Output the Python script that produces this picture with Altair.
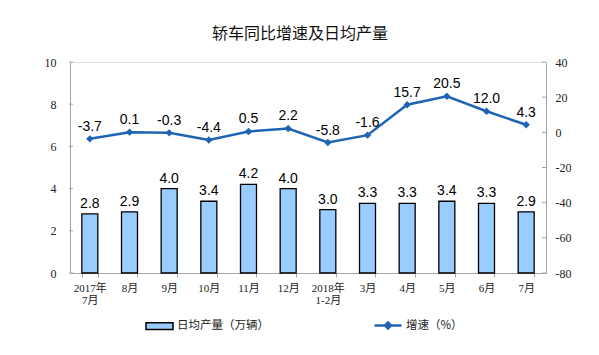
import altair as alt
import pandas as pd

categories = ["2017年\n7月", "8月", "9月", "10月", "11月", "12月",
              "2018年\n1-2月", "3月", "4月", "5月", "6月", "7月"]
daily_output = [2.8, 2.9, 4.0, 3.4, 4.2, 4.0, 3.0, 3.3, 3.3, 3.4, 3.3, 2.9]
growth = [-3.7, 0.1, -0.3, -4.4, 0.5, 2.2, -5.8, -1.6, 15.7, 20.5, 12.0, 4.3]
left_ticks = [0, 2, 4, 6, 8, 10]
right_ticks = [40, 20, 0, -20, -40, -60, -80]

bar_name = "日均产量（万辆）"
line_name = "增速（%）"
title_text = "轿车同比增速及日均产量"

df = pd.DataFrame({
    "cat": categories,
    "output": daily_output,
    "growth": growth,
    "bar_series": [bar_name] * len(categories),
    "line_series": [line_name] * len(categories),
})
left_tick_df = pd.DataFrame({"output": left_ticks})
right_tick_df = pd.DataFrame({"growth": right_ticks})

BLUE = "#1F64B4"
BAR_FILL = "#99CCFF"
AXIS_GREY = "#A6A6A6"
SERIF = "Liberation Serif, Noto Sans CJK SC"
SANS = "Liberation Sans, Arial"
CJK = "Noto Sans CJK SC"
HYPHEN_EXPR = "replace(datum.label, '\u2212', '-')"

x_enc = alt.X(
    "cat:N",
    sort=categories,
    scale=alt.Scale(paddingInner=0.6, paddingOuter=0.3),
    axis=alt.Axis(
        title=None,
        labelAngle=0,
        labelExpr="split(datum.label, '\\n')",
        labelFont=SERIF,
        labelFontSize=11,
        labelColor="#222",
        labelBaseline="top",
        labelPadding=5,
        labelLineHeight=12,
        tickBand="extent",
        tickSize=4,
        tickColor=AXIS_GREY,
        domainColor=AXIS_GREY,
    ),
)

y_left = alt.Y(
    "output:Q",
    scale=alt.Scale(domain=[0, 10], nice=False),
    axis=alt.Axis(
        title=None,
        values=left_ticks,
        orient="left",
        grid=False,
        tickSize=0,
        labelPadding=14,
        labelOverlap=False,
        labelFont=SERIF,
        labelFontSize=12,
        labelColor="#222",
        domainColor=AXIS_GREY,
    ),
)

y_right = alt.Y(
    "growth:Q",
    scale=alt.Scale(domain=[-80, 40], nice=False),
    axis=alt.Axis(
        title=None,
        values=right_ticks,
        orient="right",
        grid=False,
        tickSize=0,
        labelPadding=9,
        labelOverlap=False,
        labelExpr=HYPHEN_EXPR,
        labelFont=SERIF,
        labelFontSize=12,
        labelColor="#222",
        domainColor=AXIS_GREY,
    ),
)

bars = alt.Chart(df).mark_bar(stroke="#000", strokeWidth=1.3, size=16).encode(
    x=x_enc,
    y=y_left,
    color=alt.Color(
        "bar_series:N",
        scale=alt.Scale(domain=[bar_name], range=[BAR_FILL]),
        legend=alt.Legend(
            title=None,
            orient="none",
            legendX=75,
            legendY=249.5,
            padding=0,
            symbolType="M-1,-0.25H1V0.25H-1Z",
            symbolSize=729,
            symbolStrokeColor="#000",
            symbolStrokeWidth=1.5,
            symbolOpacity=1,
            labelFont=CJK,
            labelFontSize=11.5,
            labelColor="#222",
            labelOffset=3,
        ),
    ),
)

left_tick_marks = alt.Chart(left_tick_df).mark_rule(
    color=AXIS_GREY, strokeWidth=1
).encode(
    y=y_left,
    x=alt.value(-1),
    x2=alt.value(3),
)

bar_text = alt.Chart(df).mark_text(
    font=SANS, fontSize=14, color="#000", baseline="middle", dy=-10
).encode(
    x=x_enc,
    y=y_left,
    text=alt.Text("output:Q", format=".1f"),
)

line = alt.Chart(df).mark_line(strokeWidth=2.5).encode(
    x=x_enc,
    y=y_right,
    color=alt.Color(
        "line_series:N",
        scale=alt.Scale(domain=[line_name], range=[BLUE]),
        legend=alt.Legend(
            title=None,
            orient="none",
            legendX=303,
            legendY=248.5,
            padding=0,
            symbolType="M-1,0H1M-0.22,0L0,-0.22L0.22,0L0,0.22Z",
            symbolSize=729,
            symbolStrokeColor=BLUE,
            symbolFillColor=BLUE,
            symbolStrokeWidth=2.5,
            symbolOpacity=1,
            labelFont=CJK,
            labelFontSize=11.5,
            labelColor="#222",
            labelOffset=3,
        ),
    ),
)

right_tick_marks = alt.Chart(right_tick_df).mark_rule(
    color=AXIS_GREY, strokeWidth=1
).encode(
    y=y_right,
    x=alt.value(472),
    x2=alt.value(476),
)

points = alt.Chart(df).mark_point(
    shape="diamond", filled=True, size=55, color=BLUE, opacity=1
).encode(
    x=x_enc,
    y=y_right,
)

line_text = alt.Chart(df).transform_calculate(
    growth_label="replace(format(datum.growth, '.1f'), '\u2212', '-')"
).mark_text(
    font=SANS, fontSize=14, color="#000", baseline="middle", dy=-12
).encode(
    x=x_enc,
    y=y_right,
    text=alt.Text("growth_label:N"),
)

left_layer = alt.layer(bars, left_tick_marks, bar_text)
right_layer = alt.layer(line, right_tick_marks, points, line_text)

chart = alt.layer(left_layer, right_layer).resolve_scale(
    y="independent", color="independent"
).properties(
    width=476,
    height=211,
    autosize=alt.AutoSizeParams(type="none"),
    padding={"left": 62, "top": 54, "right": 45, "bottom": 74},
    title=alt.TitleParams(
        text=title_text,
        font=CJK,
        fontSize=16,
        fontWeight="normal",
        color="#111",
        anchor="middle",
        baseline="bottom",
        offset=-2,
        dx=-8,
    ),
).configure_view(stroke=None).configure(background="white")

chart.save("out.html", embed_options={"renderer": "svg", "actions": False})
